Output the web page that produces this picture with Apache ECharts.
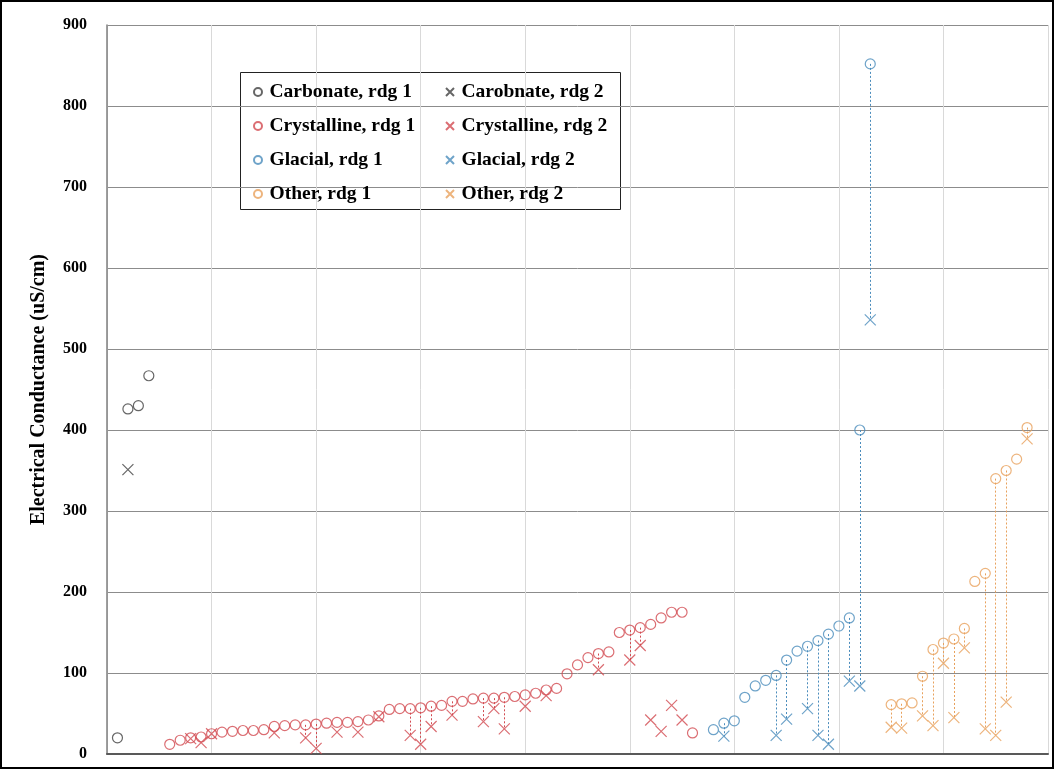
<!DOCTYPE html>
<html>
<head>
<meta charset="utf-8">
<script src="https://cdn.jsdelivr.net/npm/echarts@6/dist/echarts.min.js"></script>
<style>
html,body{margin:0;padding:0;background:#fff;}
#chart{width:1054px;height:769px;}
</style>
</head>
<body>
<div id="chart"></div>
<script>
// ---- data: [sample index, value] ----
const carbonateRdg1 = [[1,20],[2,426],[3,430],[4,467]];
const carbonateRdg2 = [[2,351]];
const carbonateLinks = [];

const crystallineRdg1 = [[6,12],[7,17],[8,20],[9,21],[10,25],[11,27],[12,28],[13,29],[14,29],[15,30],[16,34],[17,35],[18,36],[19,36],[20,37],[21,38],[22,39],[23,39],[24,40],[25,42],[26,47],[27,55],[28,56],[29,56],[30,57],[31,59],[32,60],[33,65],[34,65],[35,68],[36,69],[37,69],[38,70],[39,71],[40,73],[41,75],[42,79],[43,81],[44,99],[45,110],[46,119],[47,124],[48,126],[49,150],[50,153],[51,156],[52,160],[53,168],[54,175],[55,175],[56,26]];
const crystallineRdg2 = [[8,19],[9,14],[10,25],[16,26],[19,20],[20,7],[22,27],[24,27],[26,46],[29,23],[30,12],[31,34],[33,48],[36,40],[37,56],[38,31],[40,59],[42,72],[47,104],[50,116],[51,134],[52,42],[53,28],[54,60],[55,42]];
const crystallineLinks = [19,20,29,30,31,33,36,37,38,47,50,51];

const glacialRdg1 = [[58,30],[59,38],[60,41],[61,70],[62,84],[63,91],[64,97],[65,116],[66,127],[67,133],[68,140],[69,148],[70,158],[71,168],[72,400],[73,852]];
const glacialRdg2 = [[59,22],[64,23],[65,43],[67,56],[68,23],[69,12],[71,90],[72,84],[73,536]];
const glacialLinks = [59,64,65,67,68,69,71,72,73];

const otherRdg1 = [[75,61],[76,62],[77,63],[78,96],[79,129],[80,137],[81,142],[82,155],[83,213],[84,223],[85,340],[86,350],[87,364],[88,403]];
const otherRdg2 = [[75,33],[76,32],[78,47],[79,35],[80,112],[81,45],[82,131],[84,31],[85,23],[86,64],[88,389]];
const otherLinks = [75,76,78,79,80,81,82,84,85,86,88];

const yTicks = {min:0, max:900, interval:100};
const yAxisTitle = 'Electrical Conductance (uS/cm)';

const groups = [
  {r1:'Carbonate, rdg 1', r2:'Carobnate, rdg 2', d1:carbonateRdg1, d2:carbonateRdg2, links:carbonateLinks, color:'#404040'},
  {r1:'Crystalline, rdg 1', r2:'Crystalline, rdg 2', d1:crystallineRdg1, d2:crystallineRdg2, links:crystallineLinks, color:'#d24a50'},
  {r1:'Glacial, rdg 1', r2:'Glacial, rdg 2', d1:glacialRdg1, d2:glacialRdg2, links:glacialLinks, color:'#4a8cbc'},
  {r1:'Other, rdg 1', r2:'Other, rdg 2', d1:otherRdg1, d2:otherRdg2, links:otherLinks, color:'#e8a15c'}
];

const xPath = 'path://M0,0L10,10M10,0L0,10';
const FONT = '"Liberation Serif", "DejaVu Serif", serif';

const series = [];
groups.forEach(g => {
  const linkData = g.links.map(x => {
    const a = g.d1.find(p => p[0] === x);
    const b = g.d2.find(p => p[0] === x);
    return {coords: [[x, a[1]], [x, b[1]]]};
  });
  series.push({
    type:'lines', coordinateSystem:'cartesian2d', z:1, silent:true,
    data: linkData,
    lineStyle:{color:g.color, width:1, type:[2,2], opacity:1}
  });
});
groups.forEach(g => {
  series.push({
    name:g.r1, type:'scatter', data:g.d1, symbol:'circle', symbolSize:10, z:3,
    itemStyle:{color:'rgba(255,255,255,0)', borderColor:g.color, borderWidth:1.2}
  });
  series.push({
    name:g.r2, type:'scatter', data:g.d2, symbol:xPath, symbolSize:11, z:3,
    itemStyle:{color:'rgba(255,255,255,0)', borderColor:g.color, borderWidth:1.2}
  });
});

const legendCommon = {
  orient:'vertical', top:77, itemWidth:13, itemHeight:8, itemGap:14, symbolKeepAspect:true,
  textStyle:{fontFamily:FONT, fontWeight:'bold', fontSize:19.5, color:'#000', lineHeight:20},
  selectedMode:false
};

const chart = echarts.init(document.getElementById('chart'), null, {renderer:'canvas'});
chart.setOption({
  animation:false,
  backgroundColor:'#fff',
  grid:{left:107, right:6, top:25, bottom:15},
  xAxis:{
    type:'value', min:0, max:90, interval:10,
    axisLabel:{show:false}, axisTick:{show:false},
    axisLine:{show:true, lineStyle:{color:'#595959', width:2}},
    splitLine:{show:true, lineStyle:{color:'#d9d9d9', width:1}}
  },
  yAxis:{
    type:'value', min:yTicks.min, max:yTicks.max, interval:yTicks.interval,
    name:yAxisTitle, nameLocation:'middle', nameGap:58, nameRotate:90,
    nameTextStyle:{fontFamily:FONT, fontWeight:'bold', fontSize:20, color:'#000'},
    axisLabel:{fontFamily:FONT, fontWeight:'bold', fontSize:16, color:'#000', margin:20},
    axisTick:{show:false},
    axisLine:{show:true, lineStyle:{color:'#7f7f7f', width:1.5}},
    splitLine:{show:true, lineStyle:{color:'#8c8c8c', width:1}}
  },
  legend:[
    Object.assign({left:248, data:groups.map(g => g.r1)}, legendCommon),
    Object.assign({left:440, data:groups.map(g => g.r2)}, legendCommon)
  ],
  graphic:[
    {type:'rect', z:-1, shape:{x:240.5, y:72.5, width:380, height:137}, style:{fill:'#fff', stroke:'#222', lineWidth:1}},
    {type:'rect', z:100, silent:true, shape:{x:1, y:1, width:1052, height:767}, style:{fill:'none', stroke:'#000', lineWidth:2}}
  ],
  series:series
});
</script>
</body>
</html>
